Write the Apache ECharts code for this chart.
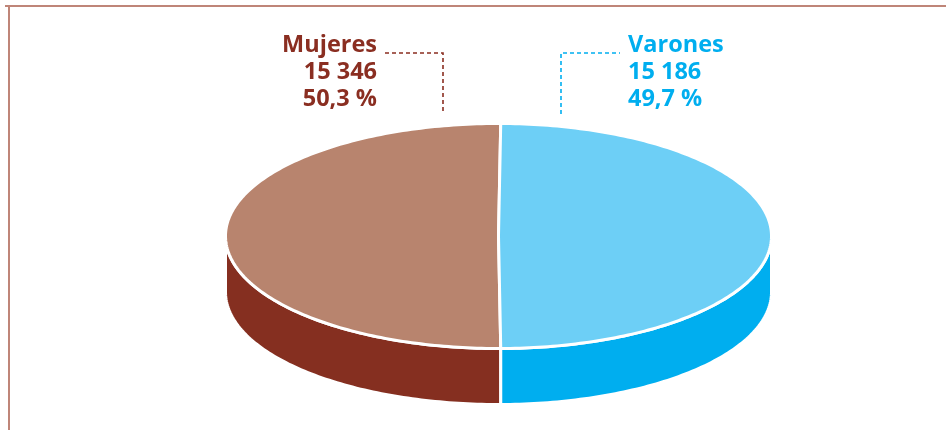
<!DOCTYPE html>
<html><head><meta charset="utf-8">
<script src="https://cdn.jsdelivr.net/npm/echarts@6/dist/echarts.min.js"></script>
<style>html,body{margin:0;padding:0;background:#fff}#c{width:946px;height:430px}</style>
</head><body><div id="c"></div>
<script>
// ---- data ----
const categories = ['Mujeres', 'Varones'];
const values = [15346, 15186];

// ---- style ----
const topColors = ['#b8846e', '#6dcff6'];
const sideColors = ['#852f20', '#00aeef'];
const textColors = ['#8a2e21', '#00aeef'];
const geo = { cx: 498.5, cy: 236, rx: 273, ry: 112.5, depth: 56, startDeg: 0.47 };
const labelStyle = [
  { x: 377, align: 'right', ys: [45, 72, 99], leader: [[385, 53], [443, 53], [443, 114]] },
  { x: 628, align: 'left', ys: [45, 72, 99], leader: [[561, 114], [561, 53], [620, 53]] }
];
const FONT = 'bold 23.5px "Open Sans", sans-serif';

const total = values.reduce((a, b) => a + b, 0);
// Varones drawn clockwise from top, Mujeres continues around
const order = [1, 0];
const spans = {};
let acc = geo.startDeg;
order.forEach(i => { const s = values[i] / total * 360; spans[i] = [acc, acc + s]; acc += s; });

function pt(deg, dy) {
  const r = deg * Math.PI / 180;
  return [geo.cx + geo.rx * Math.sin(r), geo.cy - geo.ry * Math.cos(r) + (dy || 0)];
}
function arc(a, b, dy) {
  const pts = [];
  const n = Math.max(2, Math.ceil(Math.abs(b - a)));
  for (let k = 0; k <= n; k++) pts.push(pt(a + (b - a) * k / n, dy));
  return pts;
}
function fmtNum(v) { return String(v).replace(/\B(?=(\d{3})+(?!\d))/g, ' '); }
function fmtPct(v) { return (v / total * 100).toFixed(1).replace('.', ',') + ' %'; }

function renderItem(params, api) {
  const i = params.dataIndex;
  const v = api.value(0);
  const [a, b] = spans[i];
  const children = [];
  // side wall (visible front half: 90..270 deg)
  const sa = Math.max(a, 90), sb = Math.min(b, 270);
  if (sb > sa) {
    const upper = arc(sa, sb, 0);
    const lower = arc(sa, sb, geo.depth).reverse();
    children.push({ type: 'polygon', shape: { points: upper.concat(lower) },
      style: { fill: sideColors[i], stroke: '#fff', lineWidth: 3, lineJoin: 'round' } });
  }
  // top face
  children.push({ type: 'polygon', shape: { points: [[geo.cx, geo.cy]].concat(arc(a, b, 0)) },
    style: { fill: topColors[i], stroke: '#fff', lineWidth: 3, lineJoin: 'round' } });
  // leader line
  const L = labelStyle[i];
  children.push({ type: 'polyline', shape: { points: L.leader },
    style: { stroke: textColors[i], lineWidth: 1.6, lineDash: [4, 3], fill: null } });
  // labels
  const lines = [categories[i], fmtNum(v), fmtPct(v)];
  lines.forEach((t, k) => {
    children.push({ type: 'text', x: L.x, y: L.ys[k],
      style: { text: t, fill: textColors[i], font: FONT, align: L.align, verticalAlign: 'middle' } });
  });
  return { type: 'group', children };
}

const chart = echarts.init(document.getElementById('c'), null, { renderer: 'canvas' });
chart.setOption({
  animation: false,
  backgroundColor: '#fff',
  graphic: [
    { type: 'line', shape: { x1: 5, y1: 6, x2: 946, y2: 6 }, style: { stroke: '#bf8578', lineWidth: 2 } },
    { type: 'line', shape: { x1: 9, y1: 5, x2: 9, y2: 430 }, style: { stroke: '#bf8578', lineWidth: 2 } }
  ],
  series: [{
    type: 'custom',
    coordinateSystem: 'none',
    renderItem: renderItem,
    data: values.map((v, i) => ({ name: categories[i], value: [v] }))
  }]
});
</script></body></html>
